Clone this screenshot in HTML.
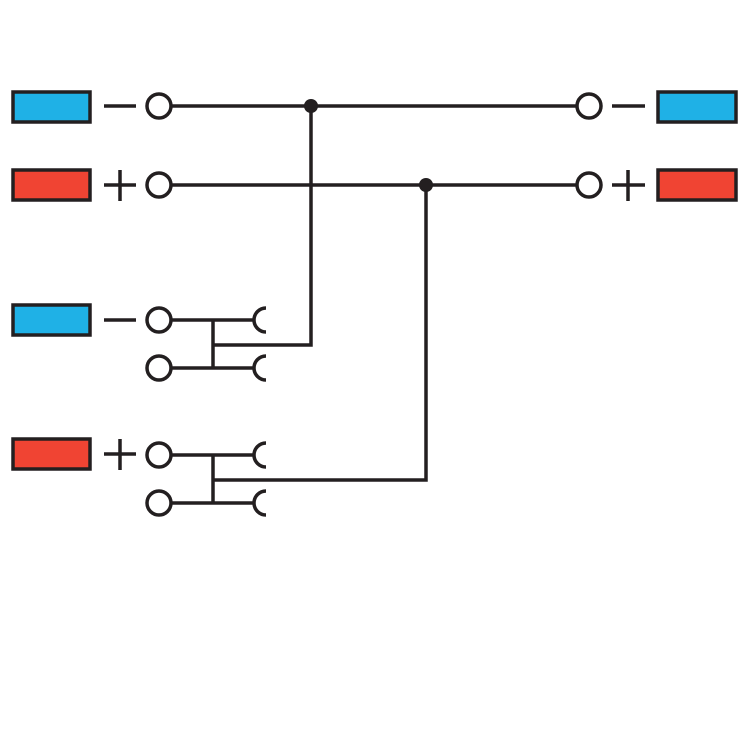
<!DOCTYPE html>
<html><head><meta charset="utf-8"><style>html,body{margin:0;padding:0;background:#fff}</style></head>
<body>
<svg width="750" height="750" viewBox="0 0 750 750" xmlns="http://www.w3.org/2000/svg">
<g stroke="#231f20" stroke-width="3.5" fill="none" stroke-linecap="butt">
<rect x="13" y="92" width="77" height="30" fill="#1fb1e6"/>
<rect x="13" y="170" width="77" height="30" fill="#f04433"/>
<rect x="13" y="305" width="77" height="30" fill="#1fb1e6"/>
<rect x="13" y="439" width="77" height="30" fill="#f04433"/>
<rect x="658" y="92" width="78" height="30" fill="#1fb1e6"/>
<rect x="658" y="170" width="78" height="30" fill="#f04433"/>
<line x1="104" y1="106" x2="136" y2="106"/>
<line x1="104" y1="185" x2="136" y2="185"/><line x1="120" y1="170" x2="120" y2="201"/>
<line x1="104" y1="320" x2="136" y2="320"/>
<line x1="104" y1="454" x2="136" y2="454"/><line x1="120" y1="439" x2="120" y2="470"/>
<line x1="612" y1="106" x2="645" y2="106"/>
<line x1="612" y1="185" x2="645" y2="185"/><line x1="628" y1="170" x2="628" y2="201"/>
<circle cx="159" cy="106" r="12" fill="#fff"/>
<circle cx="159" cy="185" r="12" fill="#fff"/>
<circle cx="159" cy="320" r="12" fill="#fff"/>
<circle cx="159" cy="368" r="12" fill="#fff"/>
<circle cx="159" cy="455" r="12" fill="#fff"/>
<circle cx="159" cy="503" r="12" fill="#fff"/>
<circle cx="589" cy="106" r="12" fill="#fff"/>
<circle cx="589" cy="185" r="12" fill="#fff"/>
<line x1="171" y1="106" x2="577" y2="106"/>
<line x1="171" y1="185" x2="577" y2="185"/>
<polyline points="311,106 311,345 213,345"/>
<polyline points="426,185 426,480 213,480"/>
<line x1="171" y1="320" x2="254" y2="320"/>
<line x1="171" y1="368" x2="254" y2="368"/>
<line x1="213" y1="320" x2="213" y2="368"/>
<line x1="171" y1="455" x2="254" y2="455"/>
<line x1="171" y1="503" x2="254" y2="503"/>
<line x1="213" y1="455" x2="213" y2="503"/>
<path d="M266 308 A12 12 0 0 0 266 332"/>
<path d="M266 356 A12 12 0 0 0 266 380"/>
<path d="M266 443 A12 12 0 0 0 266 467"/>
<path d="M266 491 A12 12 0 0 0 266 515"/>
</g>
<circle cx="311" cy="106" r="7" fill="#231f20"/>
<circle cx="426" cy="185" r="7" fill="#231f20"/>
</svg>
</body></html>
